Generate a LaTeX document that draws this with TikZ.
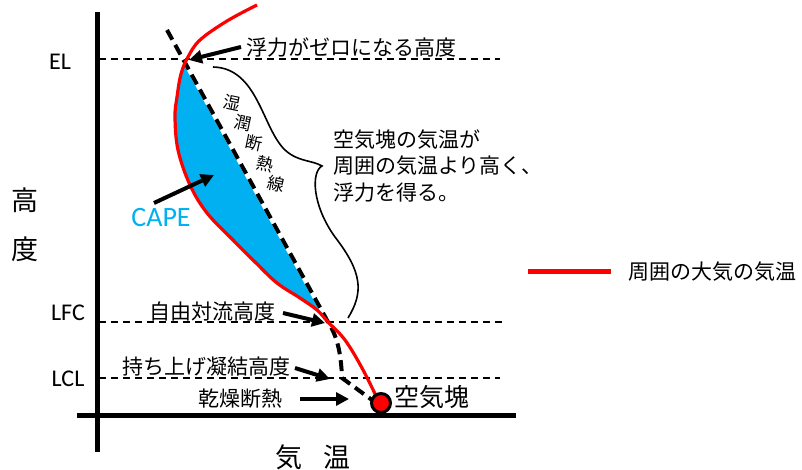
\documentclass[tikz,border=0pt]{standalone}
\usepackage{fontspec}
\newfontfamily\jp{Noto Sans CJK JP}
\newfontfamily\lat{Carlito}
\usetikzlibrary{arrows.meta}
\definecolor{capeblue}{HTML}{00B0F0}
\definecolor{envred}{HTML}{FF0000}
\begin{document}
\begin{tikzpicture}[x=1pt,y=-1pt,
 jt/.style={font=\jp\fontsize{21}{26}\selectfont, inner sep=0pt},
 lt/.style={font=\lat\fontsize{24}{28}\selectfont, inner sep=0pt},
 axisline/.style={line width=5pt},
 level/.style={line width=1.2pt, dash pattern=on 7pt off 5pt},
 parcelpath/.style={line width=4pt, dash pattern=on 11pt off 6pt},
 envline/.style={line width=3.2pt, envred},
 callout/.style={line width=4pt, -{Triangle[length=13pt,width=13pt]}},
 vchar/.style={font=\jp\fontsize{17}{19}\selectfont, rotate=-12, inner sep=0pt},
]
\useasboundingbox (0,0) rectangle (802,470);
% key points
\coordinate (EL) at (186,61);
\coordinate (LFC) at (328,322);
\coordinate (LCL) at (342,378);
\coordinate (top) at (167,30);
% level lines
\draw[level] (99,59) -- (500,59);
\draw[level] (99,322) -- (503,322);
\draw[level] (99,378) -- (500,378);
% CAPE area
\fill[capeblue] plot[smooth, tension=0.6] coordinates {(186,61) (181,74) (177,97) (175,117) (178,150) (190,185) (207,213) (233,240) (255,262) (277,283) (300,298) (317,310) (328,322)} -- cycle;
% parcel path
\draw[white, line width=4pt] (top) -- (LFC);
\draw[parcelpath] (top) -- (LFC) .. controls (337,336) and (341,352) .. (LCL) -- (372,400);
% environment
\draw[envline] plot[smooth, tension=0.6] coordinates {(257,5) (227,21) (200,40) (188,57) (181,74) (177,97) (175,117) (178,150) (190,185) (207,213) (233,240) (255,262) (277,283) (300,298) (317,310) (328,322) (345,340) (362,368) (378,400)};
% axes
\draw[axisline] (97,12) -- (97,452);
\draw[axisline] (77,415) -- (516,415);
\node[circle, fill=envred, draw=black, line width=3pt, minimum size=19pt, inner sep=0pt] (parcel) at (381,403) {};
% brace
\draw[line width=1.6pt] (213,67) .. controls (258,68) and (262,128) .. (285,150) .. controls (298,162) and (312,160) .. (322,166) .. controls (311,172) and (312,205) .. (335,237) .. controls (362,272) and (364,292) .. (348,318);
% axis labels
\node[lt] (elL) at (60,62) {EL};
\node[lt] (lfcL) at (68,313) {LFC};
\node[lt] (lclL) at (68,379) {LCL};
\node[font=\jp\fontsize{27}{30}\selectfont, inner sep=0pt] (yk1) at (25,200) {高};
\node[font=\jp\fontsize{27}{30}\selectfont, inner sep=0pt] (yk2) at (25,249) {度};
\node[font=\jp\fontsize{27}{30}\selectfont, inner sep=0pt] (xk1) at (289,457) {気};
\node[font=\jp\fontsize{27}{30}\selectfont, inner sep=0pt] (xk2) at (337,457) {温};
% texts
\node[jt, anchor=west] (zero) at (246,48) {浮力がゼロになる高度};
\node[vchar] (m1) at (232,103) {湿};
\node[vchar] (m2) at (243,123.25) {潤};
\node[vchar] (m3) at (254,143.5) {断};
\node[vchar] (m4) at (265,163.75) {熱};
\node[vchar] (m5) at (276,184) {線};
\node[jt, anchor=west, align=left] (desc) at (333,166) {空気塊の気温が\\周囲の気温より高く、\\浮力を得る。};
\node[font=\lat\fontsize{28}{32}\selectfont, text=capeblue, inner sep=0pt] (cape) at (161,218) {CAPE};
\node[jt] (lfcT) at (212,312) {自由対流高度};
\node[jt] (lclT) at (206,367) {持ち上げ凝結高度};
\node[jt] (dryT) at (240,399) {乾燥断熱};
\node[font=\jp\fontsize{25}{28}\selectfont, inner sep=0pt] (parcelT) at (432,397) {空気塊};
% callout arrows
\coordinate (a1s) at (241,47); \coordinate (a1e) at (189,60);
\coordinate (a2s) at (154,203); \coordinate (a2e) at (214,175);
\coordinate (a3s) at (283,313); \coordinate (a3e) at (325,323);
\coordinate (a4s) at (295,368); \coordinate (a4e) at (330,379);
\coordinate (a5s) at (300,399); \coordinate (a5e) at (349,399);
\draw[callout] (a1s) -- (a1e);
\draw[callout] (a2s) -- (a2e);
\draw[callout] (a3s) -- (a3e);
\draw[callout] (a4s) -- (a4e);
\draw[callout] (a5s) -- (a5e);
% legend
\coordinate (lg1) at (528,271); \coordinate (lg2) at (611,271);
\draw[envred, line width=5pt] (lg1) -- (lg2);
\node[jt, anchor=west] (legT) at (628,272) {周囲の大気の気温};
\end{tikzpicture}
\end{document}
